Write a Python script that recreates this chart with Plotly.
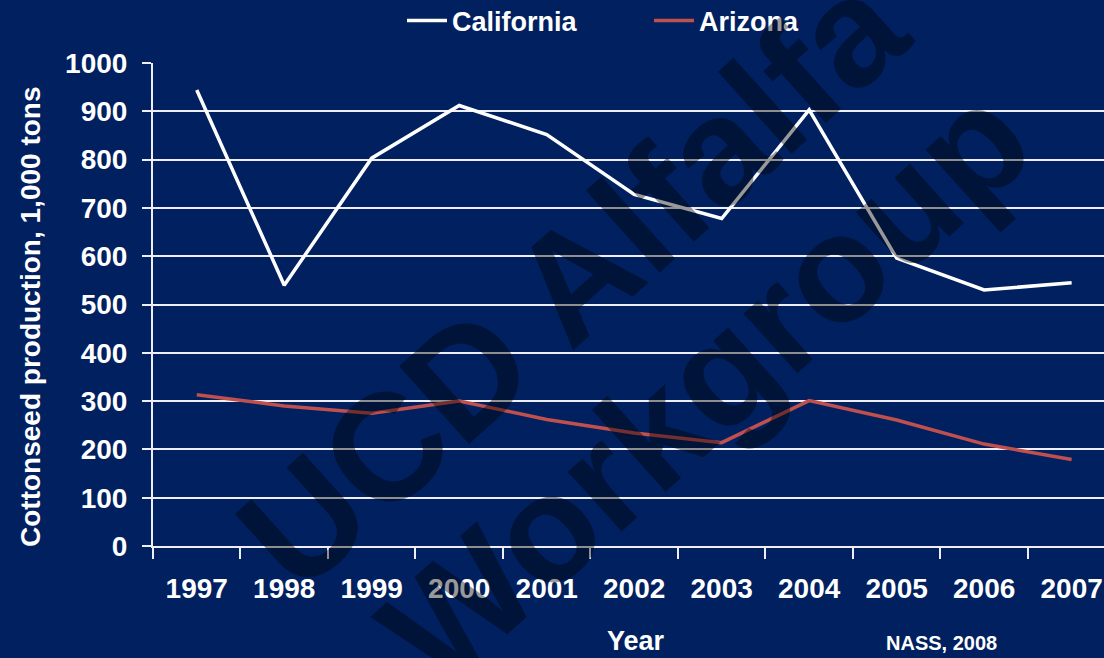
import plotly.graph_objects as go

years = ["1997", "1998", "1999", "2000", "2001", "2002", "2003", "2004", "2005", "2006", "2007"]
california = [944, 540, 803, 912, 852, 728, 678, 903, 596, 530, 545]
arizona = [313, 290, 275, 300, 262, 234, 214, 301, 261, 211, 179]
y_ticks = [0, 100, 200, 300, 400, 500, 600, 700, 800, 900, 1000]

BG = "#002060"
GRID = "#eeeef4"
FONT = "Liberation Sans, Arial, sans-serif"

fig = go.Figure()
fig.add_trace(go.Scatter(x=years, y=california, mode="lines", name="California",
                         line=dict(color="#ffffff", width=3.5)))
fig.add_trace(go.Scatter(x=years, y=arizona, mode="lines", name="Arizona",
                         line=dict(color="#c0504d", width=3.5)))

fig.update_layout(
    width=1104, height=658,
    paper_bgcolor=BG, plot_bgcolor=BG,
    margin=dict(l=153, r=0, t=63, b=112),
    font=dict(family=FONT, color="#ffffff", size=28, weight="bold"),
    showlegend=True,
    legend=dict(orientation="h", xref="container", yref="container",
                x=402 / 1104, y=1 - 21 / 658, xanchor="left", yanchor="middle",
                font=dict(size=27, color="#ffffff", family=FONT, weight="bold"),
                entrywidth=192, entrywidthmode="pixels",
                bgcolor="rgba(0,0,0,0)", itemwidth=40),
)
fig.update_xaxes(type="category", range=[-0.5, 10.37], tickson="boundaries",
                 showgrid=False, showline=True, linecolor=GRID, linewidth=2,
                 ticks="outside", ticklen=11, tickwidth=2, tickcolor=GRID,
                 tickfont=dict(size=28, color="#ffffff", family=FONT, weight="bold"),
                 ticklabelstandoff=16, zeroline=False)
fig.update_yaxes(range=[0, 1000], tickvals=y_ticks, showgrid=True, gridcolor=GRID,
                 gridwidth=2, showline=True, linecolor=GRID, linewidth=2,
                 ticks="outside", ticklen=9, tickwidth=2, tickcolor=GRID,
                 tickfont=dict(size=28, color="#ffffff", family=FONT, weight="bold"),
                 ticklabelstandoff=9, zeroline=False)

annotations = [
    dict(text="Cottonseed production, 1,000 tons", xref="paper", yref="paper",
         x=(30 - 153) / 951, y=(546 - 317) / 483, textangle=-90, showarrow=False,
         xanchor="center", yanchor="middle",
         font=dict(size=28, color="#ffffff", family=FONT, weight="bold")),
    dict(text="Year", xref="paper", yref="paper", x=(636 - 153) / 951,
         y=(546 - 641) / 483, showarrow=False, xanchor="center", yanchor="middle",
         font=dict(size=27, color="#ffffff", family=FONT, weight="bold")),
    dict(text="NASS, 2008", xref="paper", yref="paper", x=(941 - 153) / 951,
         y=(546 - 643) / 483, showarrow=False, xanchor="center", yanchor="middle",
         font=dict(size=20, color="#ffffff", family=FONT, weight="bold")),
    dict(text="UCD Alfalfa", xref="paper", yref="paper", x=(572 - 153) / 951,
         y=(546 - 280) / 483, textangle=-42, showarrow=False,
         xanchor="center", yanchor="middle",
         font=dict(size=152, color="rgba(0,0,0,0.4)", family=FONT, weight="bold")),
    dict(text="Workgroup", xref="paper", yref="paper", x=(705 - 153) / 951,
         y=(546 - 385) / 483, textangle=-42, showarrow=False,
         xanchor="center", yanchor="middle",
         font=dict(size=152, color="rgba(0,0,0,0.4)", family=FONT, weight="bold")),
]
fig.update_layout(annotations=annotations)

fig.write_html("out.html", config={"displayModeBar": False},
               post_script="document.body.style.margin='0';document.body.style.background='#002060';")
